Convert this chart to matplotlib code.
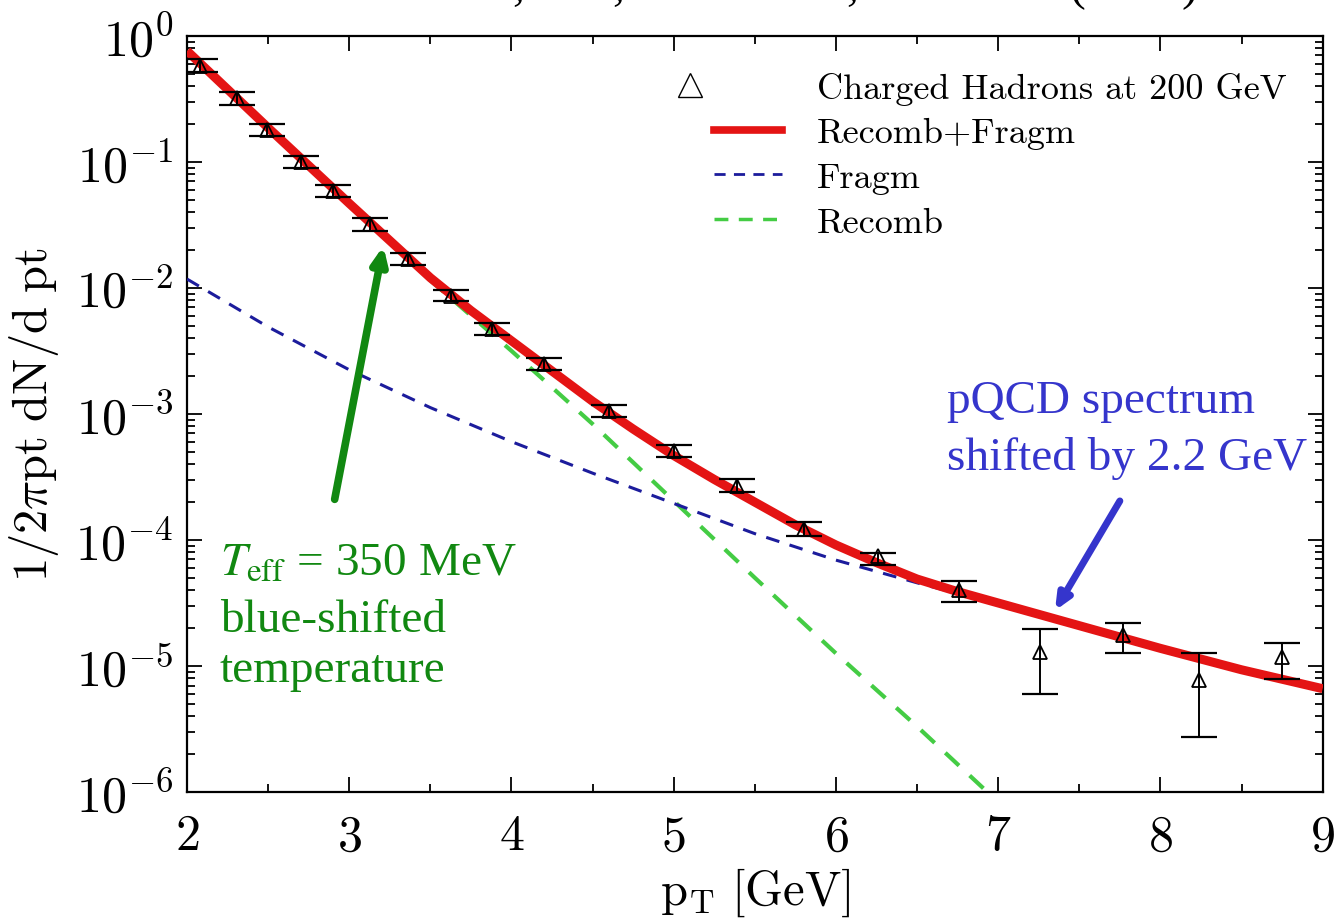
import numpy as np
import matplotlib
matplotlib.use("Agg")
import matplotlib.pyplot as plt
from matplotlib.lines import Line2D
from matplotlib.legend_handler import HandlerLine2D
from matplotlib.ticker import FixedLocator, FuncFormatter, LogLocator, NullFormatter

plt.rcParams['mathtext.fontset'] = 'cm'
plt.rcParams['axes.unicode_minus'] = False

# data points: charged hadrons at 200 GeV
pt_data = [2.08, 2.31, 2.49, 2.70, 2.90, 3.13, 3.36, 3.63, 3.88, 4.20,
           4.60, 5.00, 5.39, 5.80, 6.26, 6.76, 7.26, 7.77, 8.24, 8.75]
y_data = [0.58, 0.32, 0.18, 0.10, 0.059, 0.032, 0.017, 0.0087, 0.0047, 0.0025,
          1.05e-3, 5.1e-4, 2.7e-4, 1.23e-4, 7.4e-5, 4.0e-5, 1.3e-5, 1.75e-5, 7.8e-6, 1.17e-5]
y_lo = [0.52, 0.285, 0.16, 0.089, 0.053, 0.0285, 0.0152, 0.0078, 0.0042, 0.00223,
        9.4e-4, 4.55e-4, 2.4e-4, 1.07e-4, 6.3e-5, 3.2e-5, 6.0e-6, 1.26e-5, 2.75e-6, 7.9e-6]
y_hi = [0.65, 0.36, 0.20, 0.112, 0.066, 0.036, 0.019, 0.0097, 0.0053, 0.0028,
        1.18e-3, 5.7e-4, 3.02e-4, 1.38e-4, 7.9e-5, 4.7e-5, 1.95e-5, 2.19e-5, 1.26e-5, 1.51e-5]

# model curves (log10 of yield)
pt_total = [2.0, 2.5, 3.0, 3.5, 3.75, 4.0, 4.25, 4.5, 4.75, 5.0, 5.25, 5.5, 5.75,
            6.0, 6.25, 6.5, 6.75, 7.0, 7.5, 8.0, 8.5, 9.0]
log_total = [-0.12, -0.73, -1.33, -1.92, -2.18, -2.42, -2.66, -2.90, -3.12, -3.33,
             -3.52, -3.70, -3.88, -4.04, -4.18, -4.31, -4.41, -4.50, -4.68, -4.86,
             -5.03, -5.18]
pt_fragm = [2.0, 2.5, 3.0, 3.5, 4.0, 4.5, 5.0, 5.5, 6.0, 6.5, 7.0, 7.5, 8.0, 8.5, 9.0]
log_fragm = [-1.93, -2.31, -2.65, -2.95, -3.22, -3.47, -3.71, -3.95, -4.16, -4.34,
             -4.51, -4.69, -4.87, -5.04, -5.19]
pt_recomb = [2.0, 2.5, 3.0, 3.5, 4.0, 4.5, 5.0, 5.5, 6.0, 6.5, 7.0]
log_recomb = [-0.12, -0.73, -1.34, -1.94, -2.50, -3.08, -3.69, -4.30, -4.90, -5.48, -6.08]


class ShiftedMarker(HandlerLine2D):
    # marker-only legend entry drawn near the left of the handle box
    def create_artists(self, legend, orig_handle, xdescent, ydescent, width,
                       height, fontsize, trans):
        arts = super().create_artists(legend, orig_handle, xdescent, ydescent,
                                      width, height, fontsize, trans)
        for a in arts:
            xd = a.get_xdata()
            a.set_xdata([v - 0.85 * width for v in xd])
        return arts


fig = plt.figure(figsize=(13.36, 9.2), dpi=100)
ax = fig.add_axes([0.140, 0.138, 0.850, 0.822])

ax.plot(pt_recomb, 10 ** np.array(log_recomb), color='#44cc44', lw=3.0,
        dashes=(4.5, 3.5), zorder=2)
ax.plot(pt_fragm, 10 ** np.array(log_fragm), color='#1c1c9c', lw=2.2,
        dashes=(4.5, 3.5), zorder=3)
ax.plot(pt_total, 10 ** np.array(log_total), color='#e41414', lw=6.5, zorder=4,
        solid_capstyle='butt', solid_joinstyle='round')

y = np.array(y_data)
yerr = [y - np.array(y_lo), np.array(y_hi) - y]
ax.errorbar(pt_data, y, yerr=yerr, fmt='none', ecolor='black', elinewidth=1.4,
            capsize=13, capthick=1.6, zorder=5)
ax.plot(pt_data, y, linestyle='none', marker='^', markersize=10,
        markerfacecolor='none', markeredgecolor='black', markeredgewidth=1.3, zorder=6)

ax.set_yscale('log')
ax.set_xlim(2, 9)
ax.set_ylim(1e-6, 1)

ax.xaxis.set_major_locator(FixedLocator(range(2, 10)))
ax.xaxis.set_minor_locator(FixedLocator(np.arange(2.5, 9, 1.0)))
ax.xaxis.set_major_formatter(FuncFormatter(lambda v, p: r'$%d$' % round(v)))
ax.xaxis.set_minor_formatter(NullFormatter())
ax.yaxis.set_major_locator(LogLocator(base=10, numticks=10))
ax.yaxis.set_minor_locator(LogLocator(base=10, subs=np.arange(2, 10), numticks=20))
ax.yaxis.set_minor_formatter(NullFormatter())
ax.yaxis.set_major_formatter(FuncFormatter(lambda v, p: r'$10^{%d}$' % round(np.log10(v))))

ax.tick_params(which='both', direction='in', top=True, right=True, width=1.3,
               labelsize=36)
ax.tick_params(which='major', length=11)
ax.tick_params(which='minor', length=6)
ax.tick_params(axis='x', pad=14)
ax.tick_params(axis='y', pad=10)
for s in ax.spines.values():
    s.set_linewidth(1.6)

ax.set_xlabel(r'$\mathrm{p_T\ [GeV]}$', fontsize=35, labelpad=4)
ax.set_ylabel(r'$1/2\pi\mathrm{pt\ dN/d\ pt}$', fontsize=35, labelpad=10)

handles = [
    Line2D([], [], linestyle='none', marker='^', markersize=17,
           markerfacecolor='none', markeredgecolor='black', markeredgewidth=1.0),
    Line2D([], [], color='#e41414', lw=5.5),
    Line2D([], [], color='#1c1c9c', lw=2.0, dashes=(4, 3)),
    Line2D([], [], color='#44cc44', lw=2.5, dashes=(4, 3)),
]
labels = ['Charged Hadrons at 200 GeV', 'Recomb+Fragm', 'Fragm', 'Recomb']
leg = ax.legend(handles, labels, loc='upper right', frameon=False,
                prop={'family': 'cmr10', 'size': 26}, handlelength=1.9,
                handletextpad=0.95, labelspacing=0.34, borderaxespad=0.6,
                handler_map={handles[0]: ShiftedMarker()})

green = '#118811'
blue = '#3535cc'
tfont = dict(family='Liberation Serif', fontsize=34)
ax.text(0.029, 0.288, r'$T_{\rm eff}$ = 350 MeV', transform=ax.transAxes,
        color=green, math_fontfamily='stix', va='baseline', **tfont)
ax.text(0.029, 0.213, 'blue-shifted', transform=ax.transAxes, color=green,
        va='baseline', **tfont)
ax.text(0.029, 0.147, 'temperature', transform=ax.transAxes, color=green,
        va='baseline', **tfont)
ax.text(0.669, 0.503, 'pQCD spectrum', transform=ax.transAxes, color=blue,
        va='baseline', **tfont)
ax.text(0.669, 0.427, 'shifted by 2.2 GeV', transform=ax.transAxes, color=blue,
        va='baseline', **tfont)

ax.annotate('', xy=(3.21, 0.0215), xytext=(2.91, 2.1e-4),
            arrowprops=dict(arrowstyle='-|>,head_length=1.0,head_width=0.45',
                            color=green, lw=5.5, shrinkA=0, shrinkB=0))
ax.annotate('', xy=(7.35, 2.75e-5), xytext=(7.75, 2.04e-4),
            arrowprops=dict(arrowstyle='-|>,head_length=0.9,head_width=0.4',
                            color=blue, lw=5, shrinkA=0, shrinkB=0))

# cropped header remnants
for xf, ch in [(0.383, ','), (0.458, ','), (0.633, ','), (0.801, '('), (0.884, ')')]:
    fig.text(xf, 1.0, ch, family='Liberation Serif', fontsize=34, va='baseline')

fig.savefig('out.png', dpi=100)
